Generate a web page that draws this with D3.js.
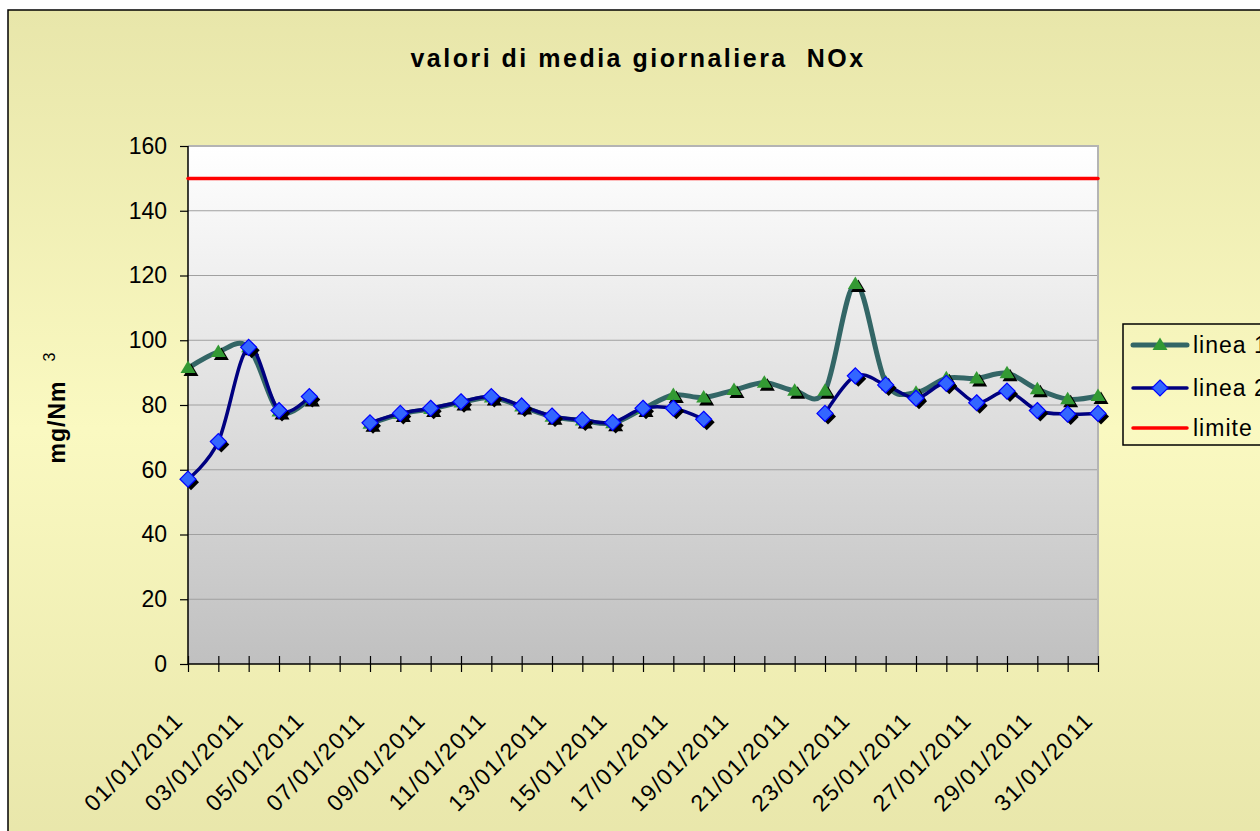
<!DOCTYPE html>
<html>
<head>
<meta charset="utf-8">
<script src="https://cdn.jsdelivr.net/npm/d3@7"></script>
<style>
  body { margin: 0; background: #fff; }
  text { font-family: "Liberation Sans", Arial, sans-serif; }
</style>
</head>
<body>
<div id="chart"></div>
<script>
const width = 1260;
const height = 831;
const plot = { left: 188, right: 1098, top: 146, bottom: 664 };

// categories (x axis)
const dates = [
  "01/01/2011", "02/01/2011", "03/01/2011", "04/01/2011", "05/01/2011", "06/01/2011",
  "07/01/2011", "08/01/2011", "09/01/2011", "10/01/2011", "11/01/2011", "12/01/2011",
  "13/01/2011", "14/01/2011", "15/01/2011", "16/01/2011", "17/01/2011", "18/01/2011",
  "19/01/2011", "20/01/2011", "21/01/2011", "22/01/2011", "23/01/2011", "24/01/2011",
  "25/01/2011", "26/01/2011", "27/01/2011", "28/01/2011", "29/01/2011", "30/01/2011",
  "31/01/2011"
];

// series values (null = no data)
const linea1 = [91.4, 96.4, 97.8, 78.0, 82.0, null, 74.2, 77.2, 78.8, 80.8, 82.3, 79.5,
  76.4, 75.2, 74.4, 78.8, 83.1, 82.3, 84.6, 86.9, 84.4, 84.4, 117.4, 87.0,
  83.8, 88.3, 88.2, 89.8, 84.9, 81.8, 82.8];
const linea2 = [57.1, 68.7, 97.8, 78.3, 82.6, null, 74.5, 77.4, 79.0, 81.0, 82.6, 79.7,
  76.6, 75.4, 74.6, 79.0, 79.0, 75.6, null, null, null, 77.4, 89.0, 86.2,
  82.1, 86.7, 80.7, 84.3, 78.3, 77.2, 77.4];
const limite = [150, 150, 150, 150, 150, 150, 150, 150, 150, 150, 150, 150, 150, 150, 150, 150,
  150, 150, 150, 150, 150, 150, 150, 150, 150, 150, 150, 150, 150, 150, 150];

const yTicks = [0, 20, 40, 60, 80, 100, 120, 140, 160];

const svg = d3.select("#chart").append("svg")
  .attr("width", width)
  .attr("height", height);

const defs = svg.append("defs");
let bg = defs.append("linearGradient").attr("id", "bgGrad")
  .attr("gradientUnits", "userSpaceOnUse")
  .attr("x1", 0).attr("x2", 0).attr("y1", 10).attr("y2", 850);
bg.append("stop").attr("offset", 0).attr("stop-color", "#e8e6aa");
bg.append("stop").attr("offset", 0.5).attr("stop-color", "#faf9c1");
bg.append("stop").attr("offset", 1).attr("stop-color", "#e8e6aa");

let pg = defs.append("linearGradient").attr("id", "plotGrad")
  .attr("gradientUnits", "userSpaceOnUse")
  .attr("x1", 0).attr("x2", 0).attr("y1", plot.top).attr("y2", plot.bottom);
pg.append("stop").attr("offset", 0).attr("stop-color", "#ffffff");
pg.append("stop").attr("offset", 1).attr("stop-color", "#c0c0c0");

// chart area frame
svg.append("rect")
  .attr("x", 8).attr("y", 10)
  .attr("width", 1300).attr("height", 900)
  .attr("fill", "url(#bgGrad)")
  .attr("stroke", "#000").attr("stroke-width", 1.5);

// scales
const x = d3.scalePoint().domain(dates).range([plot.left, plot.right]);
const y = d3.scaleLinear().domain([0, 160]).range([plot.bottom, plot.top]);

// plot area
svg.append("rect")
  .attr("x", plot.left).attr("y", plot.top)
  .attr("width", plot.right - plot.left).attr("height", plot.bottom - plot.top)
  .attr("fill", "url(#plotGrad)");

// gridlines
svg.append("g").selectAll("line")
  .data(yTicks.filter(d => d > 0 && d < 160))
  .enter().append("line")
  .attr("x1", plot.left).attr("x2", plot.right)
  .attr("y1", d => y(d)).attr("y2", d => y(d))
  .attr("stroke", "#a0a0a0").attr("stroke-width", 1);

// top + right border of plot
svg.append("path")
  .attr("d", `M${plot.left},${y(160)}H${plot.right}V${plot.bottom}`)
  .attr("fill", "none").attr("stroke", "#b4b4b4").attr("stroke-width", 2);

// y axis
const yAxis = svg.append("g")
  .attr("transform", `translate(${plot.left},0)`)
  .call(d3.axisLeft(y).tickValues(yTicks).tickSize(8).tickPadding(13));
yAxis.select(".domain").remove();
yAxis.selectAll("line").attr("stroke", "#000").attr("stroke-width", 1.2);
yAxis.selectAll("text")
  .attr("font-size", 23)
  .attr("font-family", "Liberation Sans, Arial, sans-serif")
  .attr("fill", "#000");

// x axis
const xAxis = svg.append("g")
  .attr("transform", `translate(0,${plot.bottom})`)
  .call(d3.axisBottom(x).tickSize(8).tickFormat((d, i) => i % 2 === 0 ? d : ""));
xAxis.select(".domain").remove();
xAxis.selectAll("line").attr("y1", -8).attr("stroke", "#000").attr("stroke-width", 1.2);
xAxis.selectAll("text")
  .attr("font-size", 23)
  .attr("font-family", "Liberation Sans, Arial, sans-serif")
  .attr("fill", "#000")
  .attr("letter-spacing", 1.5)
  .attr("text-anchor", "end")
  .attr("y", 0).attr("dy", 0)
  .attr("transform", "translate(-4,58) rotate(-45)");

// axis lines
svg.append("line")
  .attr("x1", plot.left).attr("x2", plot.left)
  .attr("y1", plot.top).attr("y2", plot.bottom)
  .attr("stroke", "#000").attr("stroke-width", 1.5);
svg.append("line")
  .attr("x1", plot.left).attr("x2", plot.right)
  .attr("y1", plot.bottom).attr("y2", plot.bottom)
  .attr("stroke", "#000").attr("stroke-width", 1.5);

// series
const line = d3.line()
  .defined(d => d.v != null)
  .x(d => x(d.date))
  .y(d => y(d.v))
  .curve(d3.curveCardinal.tension(0));

let toPoints = arr => arr.map((v, i) => ({ date: dates[i], v: v }));

const triangle = "M0,-7.5L7.5,5L-7.5,5Z";
const diamond = "M0,-8L8,0L0,8L-8,0Z";

let drawSeries = (values, color, lw, shape, fill, stroke) => {
  const pts = toPoints(values);
  svg.append("path")
    .datum(pts)
    .attr("d", line)
    .attr("fill", "none")
    .attr("stroke", color)
    .attr("stroke-width", lw)
    .attr("stroke-linejoin", "round")
    .attr("stroke-linecap", "round");
  if (!shape) return;
  const valid = pts.filter(d => d.v != null);
  // marker shadows
  svg.append("g").selectAll("path")
    .data(valid).enter().append("path")
    .attr("d", shape)
    .attr("transform", d => `translate(${x(d.date) + 3},${y(d.v) + 3})`)
    .attr("fill", "#000");
  svg.append("g").selectAll("path")
    .data(valid).enter().append("path")
    .attr("d", shape)
    .attr("transform", d => `translate(${x(d.date)},${y(d.v)})`)
    .attr("fill", fill)
    .attr("stroke", stroke)
    .attr("stroke-width", stroke ? 1.2 : 0);
}

drawSeries(linea1, "#336666", 5, triangle, "#339933", null);
drawSeries(linea2, "#000080", 3.5, diamond, "#3366ff", "#0000ff");
drawSeries(limite, "#ff0000", 3.5, null);

// title
svg.append("text")
  .attr("x", 638).attr("y", 67)
  .attr("text-anchor", "middle")
  .attr("font-size", 25)
  .attr("font-weight", "bold")
  .attr("letter-spacing", 2.5)
  .style("white-space", "pre")
  .text("valori di media giornaliera  NOx");

// y axis title
svg.append("text")
  .attr("transform", "translate(65,422) rotate(-90)")
  .attr("text-anchor", "middle")
  .attr("font-size", 23)
  .attr("font-weight", "bold")
  .attr("letter-spacing", 1)
  .text("mg/Nm");
svg.append("text")
  .attr("transform", "translate(55,357) rotate(-90)")
  .attr("text-anchor", "middle")
  .attr("font-size", 16)
  .text("3");

// legend
const legendItems = ["linea 1", "linea 2", "limite"];
const legendColors = ["#336666", "#000080", "#ff0000"];
const legendWidths = [5, 3.5, 3.5];
const legendY = [345, 388, 428];

const legend = svg.append("g");
legend.append("rect")
  .attr("x", 1123).attr("y", 324)
  .attr("width", 200).attr("height", 121)
  .attr("fill", "none")
  .attr("stroke", "#000").attr("stroke-width", 1.5);

legendItems.forEach((name, i) => {
  legend.append("line")
    .attr("x1", 1133).attr("x2", 1187)
    .attr("y1", legendY[i]).attr("y2", legendY[i])
    .attr("stroke", legendColors[i])
    .attr("stroke-width", legendWidths[i])
    .attr("stroke-linecap", "round");
  legend.append("text")
    .attr("x", 1193).attr("y", legendY[i])
    .attr("dy", "0.36em")
    .attr("font-size", 23)
    .attr("letter-spacing", 1)
    .text(name);
});
legend.append("path").attr("d", triangle)
  .attr("transform", `translate(1160,${legendY[0]})`)
  .attr("fill", "#339933");
legend.append("path").attr("d", diamond)
  .attr("transform", `translate(1160,${legendY[1]})`)
  .attr("fill", "#3366ff").attr("stroke", "#0000ff").attr("stroke-width", 1.2);
</script>
</body>
</html>
